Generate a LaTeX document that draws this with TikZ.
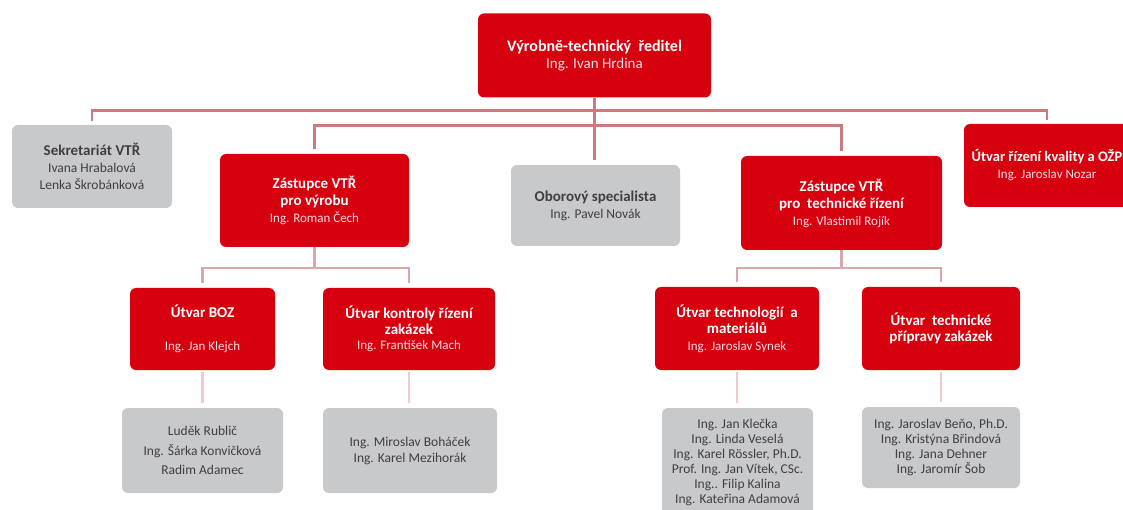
\documentclass[tikz,border=0pt]{standalone}
\usepackage{fontspec}
\setmainfont{Carlito}
\usetikzlibrary{calc}
\definecolor{boxred}{RGB}{215,0,15}
\definecolor{boxgray}{RGB}{200,201,203}
\definecolor{txtgray}{RGB}{64,62,66}
\definecolor{namepink}{RGB}{250,222,225}
\definecolor{linkA}{RGB}{205,122,126}
\definecolor{linkB}{RGB}{220,165,168}
\definecolor{linkC}{RGB}{242,200,204}
\newcommand\boxhead[1]{{\fontsize{15}{17}\selectfont\bfseries #1}}
\newcommand\boxname[1]{{\color{namepink}#1}}
\begin{document}
\begin{tikzpicture}[x=1pt,y=-1pt,
  redbox/.style={fill=boxred, text=white, rounded corners=6pt, align=center,
    inner sep=0pt, font=\fontsize{13}{17}\selectfont},
  graybox/.style={fill=boxgray, text=txtgray, rounded corners=6pt, align=center,
    inner sep=0pt, font=\fontsize{13.5}{17}\selectfont},
  linkmain/.style={draw=linkA, line width=2.6pt},
  linksub/.style={draw=linkB, line width=2.6pt},
  linkstaff/.style={draw=linkC, line width=2.6pt}]
\useasboundingbox (0,0) rectangle (1123,510);
\clip (0,0) rectangle (1123,510);

% top level
\node[redbox, minimum width=233, minimum height=84] (top) at (594.5,55.5)
  {{\fontsize{16}{18}\selectfont\bfseries Výrobně-technický\ \ ředitel}\\
   \boxname{\fontsize{15}{18}\selectfont Ing. Ivan Hrdina}};

% second level
\node[graybox, minimum width=160, minimum height=83] (sek) at (92,166.5)
  {\boxhead{Sekretariát VTŘ}\\ Ivana Hrabalová\\ Lenka Škrobánková};
\node[redbox, minimum width=189, minimum height=93] (zvyr) at (314.5,200.5)
  {\boxhead{Zástupce VTŘ}\\ \boxhead{pro výrobu}\\ \boxname{Ing. Roman Čech}};
\node[graybox, minimum width=169, minimum height=81] (obor) at (595.5,205.5)
  {\boxhead{Oborový specialista}\\ Ing. Pavel Novák};
\node[redbox, minimum width=201, minimum height=94] (ztech) at (841.5,203)
  {\boxhead{Zástupce VTŘ}\\ \boxhead{pro\ \ technické řízení}\\ \boxname{Ing. Vlastimil Rojík}};
\node[redbox, minimum width=166, minimum height=83] (kval) at (1047,165.5)
  {{\fontsize{14.5}{17}\selectfont\bfseries Útvar řízení kvality a OŽP}\\ \boxname{Ing. Jaroslav Nozar}};

% departments
\node[redbox, minimum width=145, minimum height=82] (boz) at (202.5,329)
  {\boxhead{Útvar BOZ}\\[16pt] \boxname{Ing. Jan Klejch}};
\node[redbox, minimum width=172, minimum height=82, font=\fontsize{13}{15.5}\selectfont] (kontr) at (409,329)
  {\boxhead{Útvar kontroly řízení}\\ \boxhead{zakázek}\\ \boxname{Ing. František Mach}};
\node[redbox, minimum width=164, minimum height=83, font=\fontsize{13}{16.5}\selectfont] (techn) at (737,328.5)
  {\boxhead{Útvar technologií\ \ a}\\ \boxhead{materiálů}\\ \boxname{Ing. Jaroslav Synek}};
\node[redbox, minimum width=158, minimum height=83, font=\fontsize{13}{16.5}\selectfont] (prip) at (941,328.5)
  {\boxhead{Útvar\ \ technické}\\ \boxhead{přípravy zakázek}};

% staff
\node[graybox, minimum width=161, minimum height=85, font=\fontsize{13.5}{19.5}\selectfont] (sboz) at (202.5,450.5)
  {Luděk Rublič\\ Ing. Šárka Konvičková\\ Radim Adamec};
\node[graybox, minimum width=174, minimum height=85, font=\fontsize{13.5}{16}\selectfont] (skontr) at (410,450.5)
  {Ing. Miroslav Boháček\\ Ing. Karel Mezihorák};
\node[graybox, minimum width=151, minimum height=109, font=\fontsize{13.5}{15}\selectfont] (stechn) at (737.5,462.5)
  {Ing. Jan Klečka\\ Ing. Linda Veselá\\ Ing. Karel Rössler, Ph.D.\\
   Prof. Ing. Jan Vítek, CSc.\\ Ing.. Filip Kalina\\ Ing. Kateřina Adamová};
\node[graybox, minimum width=158, minimum height=81, font=\fontsize{13.5}{15}\selectfont] (sprip) at (941,447.5)
  {Ing. Jaroslav Beňo, Ph.D.\\ Ing. Kristýna Břindová\\ Ing. Jana Dehner\\ Ing. Jaromír Šob};

% connectors from the director
\coordinate (busA) at ($(top.south)+(0,13)$);
\coordinate (busB) at ($(top.south)+(0,28)$);
\draw[linkmain, shorten >=5pt] (top.south) -- (top.south |- obor.north);
\draw[linkmain, shorten <=4pt, shorten >=4pt] (sek.north) |- (busA) -| (kval.north);
\draw[linkmain, shorten <=5pt, shorten >=5pt] (zvyr.north) |- (busB) -| (ztech.north);

% connectors from the deputies
\coordinate (busC) at ($(zvyr.south)+(0,21)$);
\coordinate (busD) at ($(ztech.south)+(0,18)$);
\draw[linksub] (zvyr.south) -- (busC);
\draw[linksub, shorten <=5pt, shorten >=5pt] (boz.north) |- (busC) -| (kontr.north);
\draw[linksub] (ztech.south) -- (busD);
\draw[linksub, shorten <=5pt, shorten >=5pt] (techn.north) |- (busD) -| (prip.north);

% connectors to the staff
\draw[linkstaff, shorten <=2pt, shorten >=5pt] (boz.south) -- (boz.south |- sboz.north);
\draw[linkstaff, shorten <=2pt, shorten >=5pt] (kontr.south) -- (kontr.south |- skontr.north);
\draw[linkstaff, shorten <=2pt, shorten >=5pt] (techn.south) -- (techn.south |- stechn.north);
\draw[linkstaff, shorten <=2pt, shorten >=5pt] (prip.south) -- (prip.south |- sprip.north);
\end{tikzpicture}
\end{document}
